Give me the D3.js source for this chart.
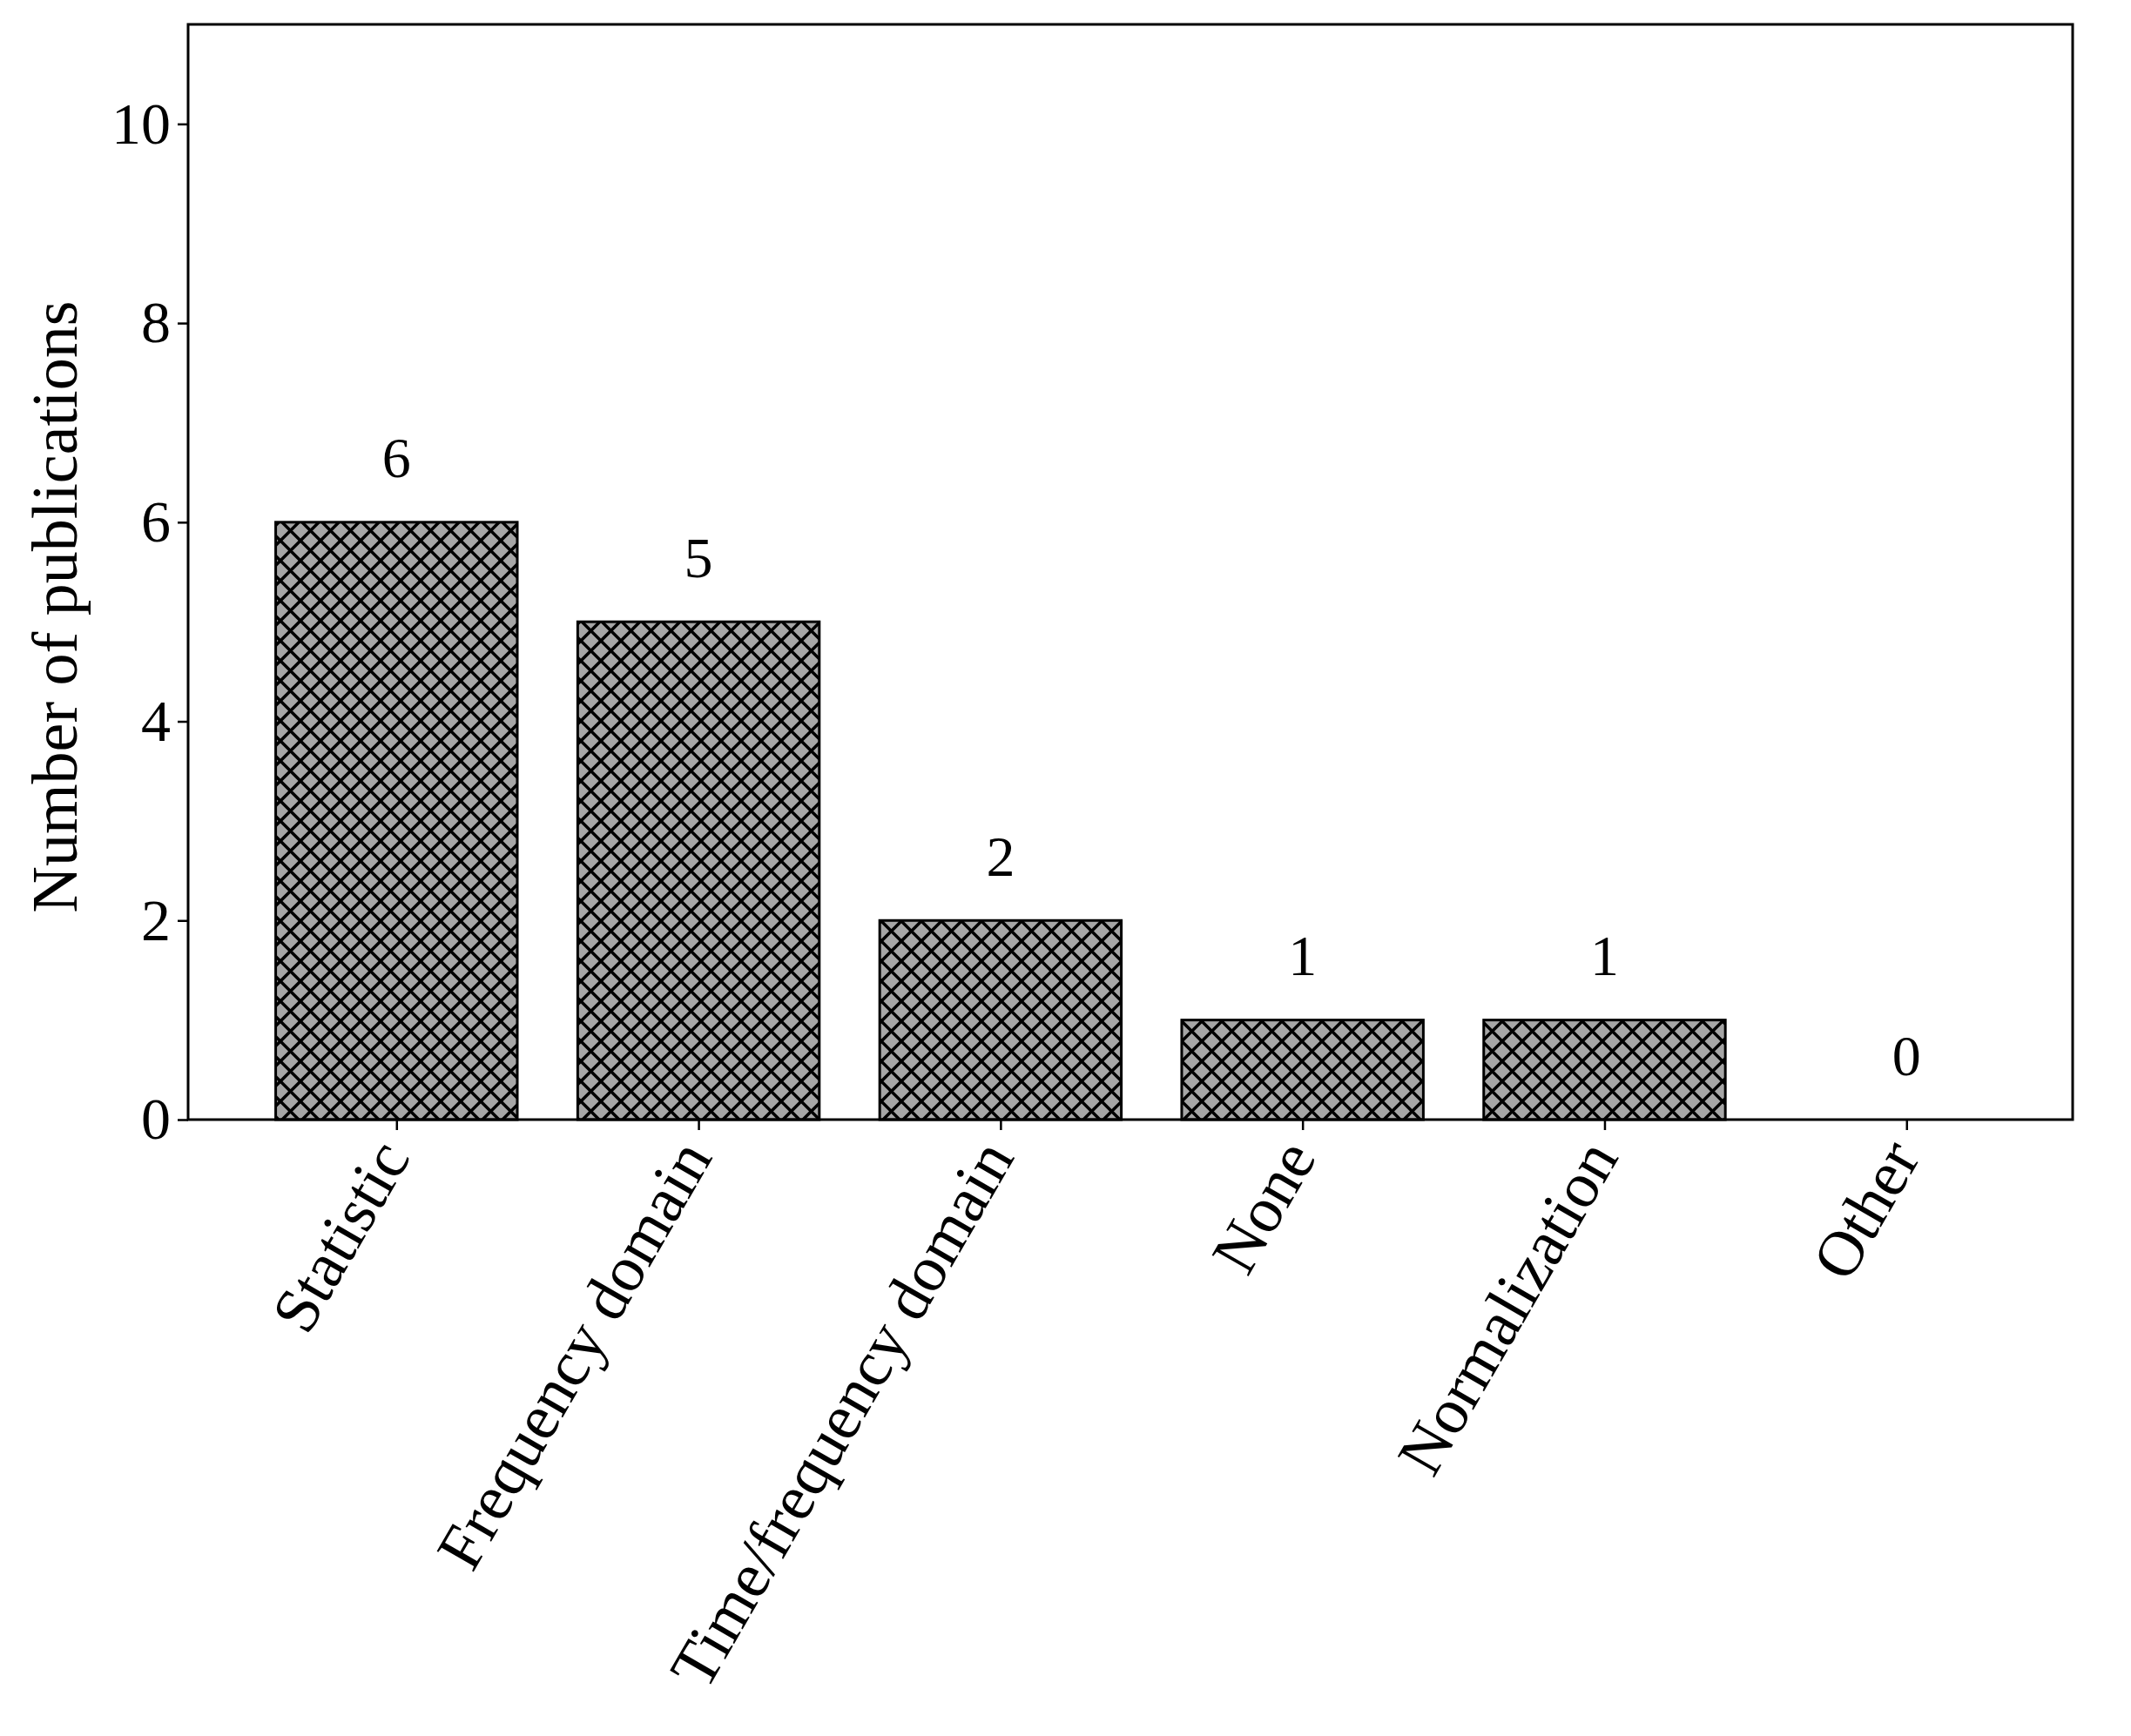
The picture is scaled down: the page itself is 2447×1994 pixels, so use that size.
<!DOCTYPE html>
<html>
<head>
<meta charset="utf-8">
<script src="https://cdn.jsdelivr.net/npm/d3@7"></script>
<style>
  body { margin: 0; background: #fff; }
  text { font-family: "Liberation Serif", "DejaVu Serif", serif; fill: #000; }
</style>
</head>
<body>
<svg id="chart" width="2447" height="1994"></svg>
<script>
// data
var categories = ["Statistic", "Frequency domain", "Time/frequency domain", "None", "Normalization", "Other"];
var counts = [6, 5, 2, 1, 1, 0];
var yTicks = [0, 2, 4, 6, 8, 10];

var svg = d3.select("#chart");
var mLeft = 216, mRight = 2380, mTop = 28, mBottom = 1286;

var x = d3.scaleLinear().domain([-0.69, 5.55]).range([mLeft, mRight]);
var y = d3.scaleLinear().domain([0, 11]).range([mBottom, mTop]);
var barW = x(0.8) - x(0);

// crosshatch pattern
var defs = svg.append("defs");
var pat = defs.append("pattern")
    .attr("id", "xx")
    .attr("patternUnits", "userSpaceOnUse")
    .attr("width", 23).attr("height", 23);
pat.append("rect").attr("width", 23).attr("height", 23).attr("fill", "#a6a6a6");
pat.append("path")
    .attr("d", "M-2,-2 L25,25 M-2,21 L2,25 M21,-2 L25,2 M-2,25 L25,-2 M-2,2 L2,-2 M21,25 L25,21")
    .attr("stroke", "#000").attr("stroke-width", 3.5);

// bars
svg.selectAll("rect.bar")
    .data(counts)
    .enter()
    .append("rect")
    .attr("class", "bar")
    .attr("x", function(d, i) { return x(i) - barW / 2; })
    .attr("y", function(d) { return y(d); })
    .attr("width", barW)
    .attr("height", function(d) { return y(0) - y(d); })
    .attr("fill", "url(#xx)")
    .attr("stroke", "#000")
    .attr("stroke-width", function(d) { return d > 0 ? 3 : 0; });

// value labels
svg.selectAll("text.val")
    .data(counts)
    .enter()
    .append("text")
    .attr("class", "val")
    .attr("x", function(d, i) { return x(i); })
    .attr("y", function(d) { return y(d + 0.45); })
    .attr("text-anchor", "middle")
    .attr("font-size", 66)
    .text(function(d) { return d; });

// y axis
var yAxis = d3.axisLeft(y).tickValues(yTicks).tickSize(12).tickPadding(8);
var gy = svg.append("g").attr("transform", "translate(" + mLeft + ",0)").call(yAxis);
gy.select(".domain").remove();
gy.selectAll("line").attr("stroke-width", 2.5);
gy.selectAll("text").attr("font-size", 68).style("font-family", "Liberation Serif, serif");

// x axis
var xAxis = d3.axisBottom(x).tickValues(d3.range(categories.length))
    .tickFormat(function(i) { return categories[i]; }).tickSize(12).tickPadding(0);
var gx = svg.append("g").attr("transform", "translate(0," + mBottom + ")").call(xAxis);
gx.select(".domain").remove();
gx.selectAll("line").attr("stroke-width", 2.5);
gx.selectAll("text")
    .attr("font-size", 74)
    .style("font-family", "Liberation Serif, serif")
    .attr("text-anchor", "end")
    .attr("y", 0)
    .attr("dy", "0.35em")
    .attr("transform", "translate(-6,30) rotate(-60)");

// frame
svg.append("rect")
    .attr("x", mLeft).attr("y", mTop)
    .attr("width", mRight - mLeft).attr("height", mBottom - mTop)
    .attr("fill", "none").attr("stroke", "#000").attr("stroke-width", 3);

// y label
svg.append("text")
    .attr("transform", "translate(88," + ((mTop + mBottom) / 2 + 40) + ") rotate(-90)")
    .attr("text-anchor", "middle")
    .attr("font-size", 74)
    .text("Number of publications");
</script>
</body>
</html>
